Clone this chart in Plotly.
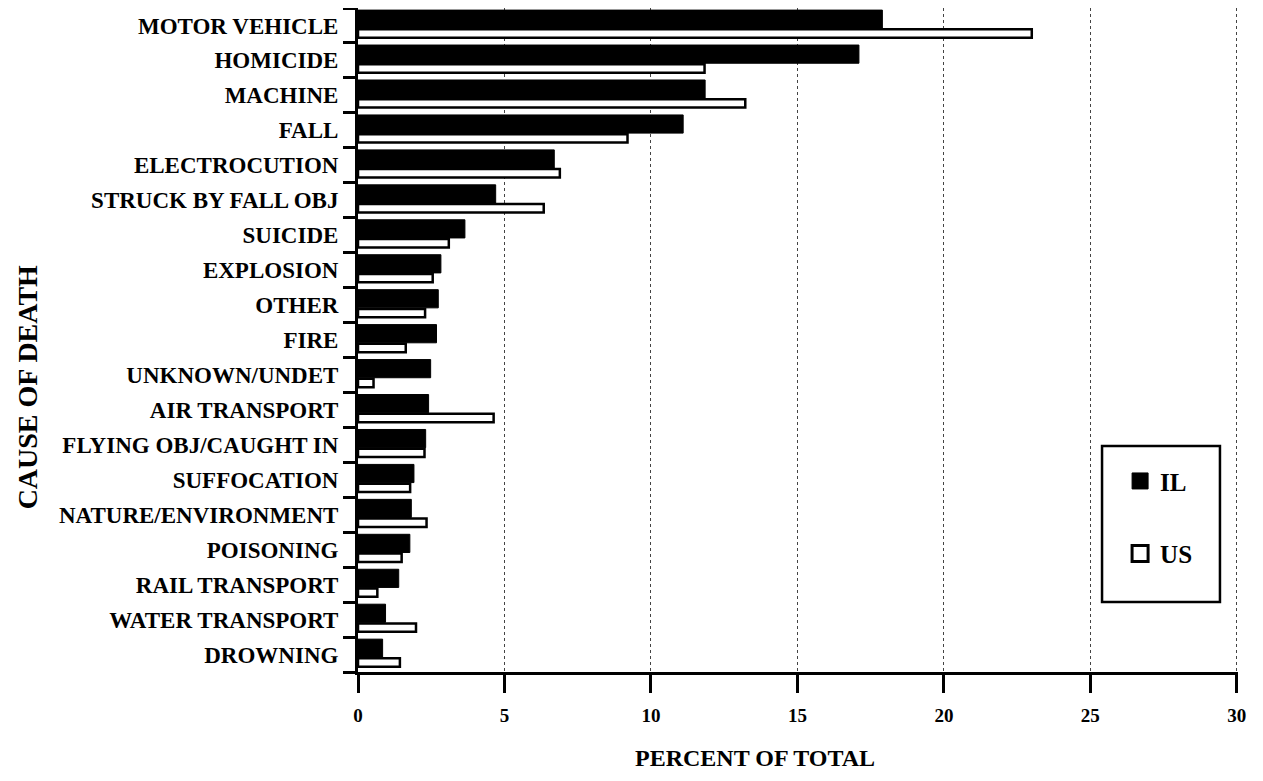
import plotly.graph_objects as go

categories = ["MOTOR VEHICLE", "HOMICIDE", "MACHINE", "FALL", "ELECTROCUTION",
              "STRUCK BY FALL OBJ", "SUICIDE", "EXPLOSION", "OTHER", "FIRE",
              "UNKNOWN/UNDET", "AIR TRANSPORT", "FLYING OBJ/CAUGHT IN",
              "SUFFOCATION", "NATURE/ENVIRONMENT", "POISONING", "RAIL TRANSPORT",
              "WATER TRANSPORT", "DROWNING"]
il_values = [17.9, 17.1, 11.85, 11.1, 6.7, 4.7, 3.65, 2.83, 2.74, 2.68,
             2.48, 2.41, 2.31, 1.91, 1.82, 1.77, 1.39, 0.94, 0.84]
us_values = [23.0, 11.83, 13.22, 9.2, 6.89, 6.34, 3.1, 2.55, 2.29, 1.63,
             0.53, 4.63, 2.27, 1.78, 2.34, 1.49, 0.66, 1.98, 1.43]
x_ticks = [0, 5, 10, 15, 20, 25, 30]

serif = "Liberation Serif"

fig = go.Figure()
fig.add_trace(go.Bar(y=categories, x=il_values, orientation="h", name="IL",
                     offset=-0.44, width=0.52,
                     marker=dict(color="black", line=dict(color="black", width=1)),
                     showlegend=False))
fig.add_trace(go.Bar(y=categories, x=us_values, orientation="h", name="US",
                     offset=0.11, width=0.24,
                     marker=dict(color="white", line=dict(color="black", width=2.5)),
                     showlegend=False))
# legend entries
fig.add_trace(go.Scatter(x=[None], y=[None], mode="markers", name="<b>IL</b>",
                         marker=dict(symbol="square", size=22, color="black",
                                     line=dict(color="black", width=1)),
                         legendgroup="a"))
fig.add_trace(go.Scatter(x=[None], y=[None], mode="markers", name="<b>US</b>",
                         marker=dict(symbol="square", size=22, color="white",
                                     line=dict(color="black", width=3)),
                         legendgroup="b"))

W, H = 1255, 773
fig.update_layout(
    width=W, height=H,
    margin=dict(l=350, r=25, t=0, b=109, autoexpand=False),
    paper_bgcolor="white", plot_bgcolor="white",
    barmode="overlay",
    font=dict(family=serif, color="black", size=18),
    showlegend=True,
    legend=dict(x=0.866, y=0.322, xanchor="left", yanchor="top",
                borderwidth=0, bgcolor="rgba(0,0,0,0)",
                font=dict(family=serif, size=25, color="black"),
                tracegroupgap=37, traceorder="grouped",
                itemwidth=30, itemsizing="trace"),
    shapes=[dict(type="rect", xref="paper", yref="paper",
                 x0=0.8455, x1=0.9795, y0=0.1054, y1=0.3404,
                 line=dict(color="black", width=2.5), fillcolor="rgba(0,0,0,0)")],
    annotations=[
        dict(text="<b>CAUSE OF DEATH</b>", xref="paper", yref="paper",
             x=-0.3755, y=0.428, xanchor="center", yanchor="middle",
             textangle=-90, showarrow=False,
             font=dict(family=serif, size=28, color="black")),
        dict(text="<b>PERCENT OF TOTAL</b>", xref="paper", yref="paper",
             x=0.451, y=-0.1295, xanchor="center", yanchor="middle",
             showarrow=False,
             font=dict(family=serif, size=24, color="black")),
    ],
)
fig.update_xaxes(range=[0, 30.04], tickvals=x_ticks, ticktext=[f"<b>{t}</b>" for t in x_ticks],
                 showline=True, linecolor="black", linewidth=3,
                 ticks="outside", ticklen=18, tickwidth=2.5, tickcolor="black",
                 ticklabelstandoff=6,
                 showgrid=True, gridcolor="#444444", griddash="dot", gridwidth=1.2,
                 zeroline=False, tickfont=dict(size=19), automargin=False)
fig.update_yaxes(autorange="reversed", tickvals=categories,
                 ticktext=[f"<b>{c}</b>" for c in categories],
                 showline=True, linecolor="black", linewidth=3,
                 ticks="outside", tickson="boundaries", ticklen=12, tickwidth=2.5,
                 tickcolor="black", tickfont=dict(size=23), ticklabelstandoff=12,
                 automargin=False)

fig.write_html("out.html")
